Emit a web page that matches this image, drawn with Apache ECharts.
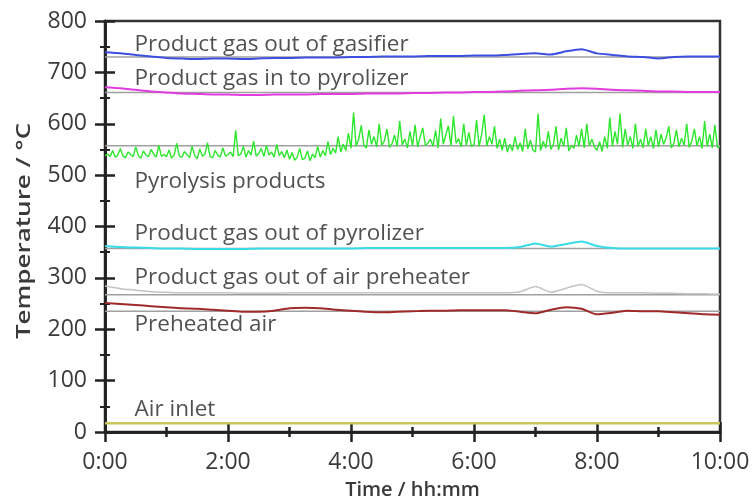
<!DOCTYPE html>
<html><head><meta charset="utf-8">
<script src="https://cdn.jsdelivr.net/npm/echarts@6/dist/echarts.min.js"></script>
<style>html,body{margin:0;padding:0;background:#fff}#c{width:754px;height:501px}</style>
</head><body><div id="c"></div>
<script>
// time axis ticks (hours)
const xTicks = [0, 2, 4, 6, 8, 10];
const yTicks = [0, 100, 200, 300, 400, 500, 600, 700, 800];
// smooth series sampled every 15 min (0:00 .. 10:00)
const gasifierOut = [739,737,734,731,728,727,726,727,727,726,727,728,728,729,729,729,730,730,731,731,731,732,732,732,733,733,734,736,737,735,741,745,737,734,731,730,727,730,731,731,731];
const pyrolizerIn = [671,669,666,663,661,659,658,657,657,656,656,657,657,657,658,658,658,659,659,659,660,660,661,661,662,662,663,664,665,666,668,669,668,666,665,664,663,663,662,662,662];
const pyrolizerOut = [362,360,359,358,357,357,356,356,356,356,357,357,357,357,357,357,357,358,358,358,358,358,358,358,358,358,358,360,367,361,366,371,362,358,357,357,357,357,357,357,357];
const airPreheaterOut = [284,279,276,273,272,271,271,271,271,270,270,270,271,271,271,271,271,271,271,271,271,271,271,271,271,271,271,273,283,272,280,287,274,271,271,271,270,270,269,269,268];
const preheatedAir = [251,249,247,245,243,241,240,238,236,234,234,236,241,242,241,238,236,234,233,234,235,236,236,237,237,237,237,234,231,238,243,240,229,232,236,235,235,233,231,229,228];
const airInlet = [17,17,17,17,17,17,17,17,17,17,17,17,17,17,17,17,17,17,17,17,17,17,17,17,17,17,17,17,17,17,17,17,17,17,17,17,17,17,17,17,17];
// noisy pyrolysis products, sampled every 2.5 min (24 per hour)
const pyrolysis = [
 538,541,536,548,535,539,552,537,534,545,540,536,555,538,533,547,539,536,550,541,535,558,537,540,
 536,549,533,539,562,537,535,546,540,534,556,538,532,551,537,541,563,536,534,548,539,535,553,537,
 540,545,536,587,538,541,556,535,548,539,566,537,542,552,536,558,539,545,535,560,538,546,534,549,
 531,544,529,535,552,530,533,547,528,541,534,556,535,548,538,565,540,552,543,575,545,560,548,582,
 552,622,556,570,597,558,553,588,560,575,555,600,558,566,590,554,561,578,556,605,559,570,553,585,
 557,598,555,575,592,558,562,570,556,587,553,610,560,578,596,557,615,562,571,555,600,558,583,556,
 559,607,556,580,618,557,575,560,595,552,570,548,572,545,560,547,575,550,563,546,590,551,568,549,
 545,620,548,566,553,585,550,560,595,549,572,556,592,547,558,552,578,556,590,553,600,557,570,555,
 548,565,546,575,552,612,556,585,560,620,554,590,558,575,552,600,556,570,553,590,557,575,552,588,
 555,580,560,573,595,553,562,588,555,572,558,600,554,566,590,557,575,552,605,556,580,553,598,554,
 555];
// grey reference levels
const refNames = ['gasifier','pyrolizerIn','pyrolysis','pyrolizerOut','airPreheater','preheatedAir'];
const refLevels = [730, 661, 557, 357, 267, 235];
// curve labels: text, anchor time (h), anchor temperature
const labelTexts = ['Product gas out of gasifier','Product gas in to pyrolizer','Pyrolysis products','Product gas out of pyrolizer','Product gas out of air preheater','Preheated air','Air inlet'];
const labelT = [0.48,0.48,0.48,0.48,0.48,0.48,0.48];
const labelV = [755,687,488,387,300,210,43];

const pair = (arr, step) => arr.map((v, i) => [i * step, v]);

const chart = echarts.init(document.getElementById('c'));
const FONT = 'Open Sans';
const axisCol = '#222';
const series = [];
refLevels.forEach((v, i) => series.push({
  type: 'line', name: 'ref-' + refNames[i], showSymbol: false, silent: true,
  data: [[0, v], [10, v]], lineStyle: { color: '#a0a0a0', width: 1.5 }, z: 1
}));
const mk = (name, arr, step, color, w) => ({
  type: 'line', name, showSymbol: false, data: pair(arr, step), smooth: 0.2,
  lineStyle: { color, width: w }, z: 3
});
series.push(mk('Product gas out of gasifier', gasifierOut, 0.25, '#3d4fe0', 2));
series.push(mk('Product gas in to pyrolizer', pyrolizerIn, 0.25, '#e03ce0', 2));
series.push({ type: 'line', name: 'Pyrolysis products', showSymbol: false, data: pair(pyrolysis, 2.5/60),
  lineStyle: { color: '#2ee62e', width: 1.4 }, z: 3 });
series.push(mk('Product gas out of pyrolizer', pyrolizerOut, 0.25, '#38dbe6', 2));
series.push(mk('Product gas out of air preheater', airPreheaterOut, 0.25, '#c4c4c4', 1.5));
series.push(mk('Preheated air', preheatedAir, 0.25, '#a02a2a', 2));
series.push(mk('Air inlet', airInlet, 0.25, '#c9c75a', 2.5));
series.push({
  type: 'scatter', name: 'labels', symbolSize: 0, silent: true, z: 5,
  data: labelTexts.map((s, i) => ({ value: [labelT[i], labelV[i]], name: s })),
  label: { show: true, position: 'right', distance: 0, formatter: p => p.name,
    fontFamily: FONT, fontSize: 22.5, fontWeight: 500, color: '#262626' }
});

const baseX = {
  type: 'value', min: 0, max: 10, interval: 2, position: 'bottom',
  axisLine: { show: true, onZero: false, lineStyle: { color: axisCol, width: 2.5 } },
  splitLine: { show: false }, minorSplitLine: { show: false },
  minorTick: { show: true, splitNumber: 2, length: 5, lineStyle: { color: axisCol, width: 2.5 } }
};
const baseY = {
  type: 'value', min: 0, max: 800, interval: 100, position: 'left',
  axisLine: { show: true, onZero: false, lineStyle: { color: axisCol, width: 2.5 } },
  splitLine: { show: false }, minorSplitLine: { show: false },
  minorTick: { show: true, splitNumber: 2, length: 5, lineStyle: { color: axisCol, width: 2 } }
};
chart.setOption({
  animation: false,
  backgroundColor: '#fff',
  grid: { left: 105, right: 34, top: 21, bottom: 69, show: true, borderColor: '#333', borderWidth: 2.5,
    containLabel: false, outerBoundsMode: 'none' },
  graphic: [{
    type: 'text', x: 24, y: 231, rotation: Math.PI / 2, scaleX: 1.3, silent: true,
    style: { text: 'Temperature / °C', font: '600 20px "Open Sans"', fill: '#3a3a3a', textAlign: 'center', textVerticalAlign: 'middle' }
  }],
  xAxis: [
    Object.assign({}, baseX, {
      axisTick: { show: true, inside: false, length: 10, lineStyle: { color: axisCol, width: 2.5 } },
      axisLabel: { show: true, formatter: v => xTicks.includes(v) ? v + ':00' : '', fontFamily: FONT, fontSize: 23, color: '#3a3a3a', margin: 19 },
      name: 'Time / hh:mm', nameLocation: 'middle', nameGap: 48,
      nameTextStyle: { fontFamily: FONT, fontSize: 20, fontWeight: 600, color: '#3a3a3a' }
    }),
    Object.assign({}, baseX, {
      axisTick: { show: true, inside: true, length: 10, lineStyle: { color: axisCol, width: 2.5 } },
      axisLabel: { show: false }
    })
  ],
  yAxis: [
    Object.assign({}, baseY, {
      axisTick: { show: true, inside: false, length: 10, lineStyle: { color: axisCol, width: 2.5 } },
      axisLabel: { show: true, formatter: v => yTicks.includes(v) ? String(v) : '', fontFamily: FONT, fontSize: 23, color: '#3a3a3a', margin: 18 }
    }),
    Object.assign({}, baseY, {
      axisTick: { show: true, inside: true, length: 10, lineStyle: { color: axisCol, width: 2.5 } },
      axisLabel: { show: false }
    })
  ],
  series: series
});
</script></body></html>
